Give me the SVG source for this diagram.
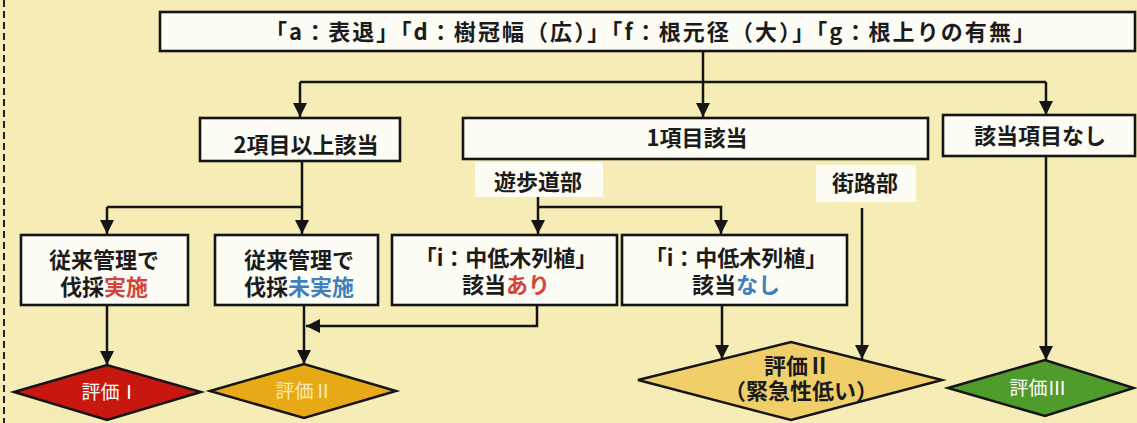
<svg xmlns="http://www.w3.org/2000/svg" width="1137" height="423" viewBox="0 0 1137 423">
<style>
.bg{fill:#f6edb6}
.box{fill:#fdfcf5;stroke:#151515;stroke-width:2.6}
.lbl{fill:#fdfcf5}
.t{font-family:"Noto Sans CJK JP","Noto Sans CJK SC",sans-serif;font-weight:700;font-size:22px;fill:#1b1b1b;text-anchor:middle}
.red{fill:#d2443c}
.blue{fill:#3f7fbe}
.dt{font-family:"Noto Sans CJK JP","Noto Sans CJK SC",sans-serif;font-weight:400;font-size:19px;text-anchor:middle}
.ln{fill:none;stroke:#151515;stroke-width:2.5}
.dia{stroke:#151515;stroke-width:2.5}
</style>
<defs>
<marker id="ah" markerUnits="userSpaceOnUse" markerWidth="14" markerHeight="14" viewBox="0 0 14 14" refX="14" refY="7" orient="auto">
<path d="M0,0 L14,7 L0,14 z" fill="#151515"/>
</marker>
</defs>
<rect class="bg" x="0" y="0" width="1137" height="423"/>
<line x1="4" y1="0" x2="4" y2="423" stroke="#222" stroke-width="2" stroke-dasharray="7,4"/>

<g id="connectors">
<path class="ln" d="M703,51 V117" marker-end="url(#ah)"/>
<path class="ln" d="M300,82 H1046"/>
<path class="ln" d="M300,82 V117" marker-end="url(#ah)"/>
<path class="ln" d="M1046,82 V115" marker-end="url(#ah)"/>
<path class="ln" d="M302,161 V234" marker-end="url(#ah)"/>
<path class="ln" d="M107,207 H302"/>
<path class="ln" d="M107,207 V234" marker-end="url(#ah)"/>
<path class="ln" d="M538,197 V234" marker-end="url(#ah)"/>
<path class="ln" d="M538,207 H721 V234" marker-end="url(#ah)"/>
<path class="ln" d="M862,208 V359" marker-end="url(#ah)"/>
<path class="ln" d="M722,305 V359" marker-end="url(#ah)"/>
<path class="ln" d="M537,305 V326 H306" marker-end="url(#ah)"/>
<path class="ln" d="M304,305 V364" marker-end="url(#ah)"/>
<path class="ln" d="M107,305 V365" marker-end="url(#ah)"/>
<path class="ln" d="M1046,156 V360" marker-end="url(#ah)"/>
</g>

<g id="top">
<rect class="box" x="160" y="12" width="975" height="39"/>
<text class="t" x="650" y="40" font-size="21" textLength="770" lengthAdjust="spacing">「a：表退」「d：樹冠幅（広）」「f：根元径（大）」「g：根上りの有無」</text>
</g>

<g id="n2">
<rect class="box" x="200" y="118" width="200" height="43"/>
<text class="t" x="306" y="153">2項目以上該当</text>
</g>

<g id="n1">
<rect class="box" x="463" y="118" width="465" height="41"/>
<text class="t" x="697" y="146">1項目該当</text>
</g>

<g id="n0">
<rect class="box" x="943" y="115" width="192" height="41"/>
<text class="t" x="1040" y="144">該当項目なし</text>
</g>

<g id="yuho">
<rect class="lbl" x="475" y="162" width="128" height="35"/>
<text class="t" x="538" y="190">遊歩道部</text>
</g>

<g id="gairo">
<rect class="lbl" x="816" y="165" width="100" height="37"/>
<text class="t" x="865" y="191">街路部</text>
</g>

<g id="b1">
<rect class="box" x="21" y="235" width="167" height="70"/>
<text class="t" font-size="23"><tspan x="104" y="268">従来管理で</tspan><tspan x="104" y="295">伐採<tspan class="red">実施</tspan></tspan></text>
</g>

<g id="b2">
<rect class="box" x="215" y="235" width="163" height="70"/>
<text class="t" font-size="23"><tspan x="299" y="268">従来管理で</tspan><tspan x="299" y="295">伐採<tspan class="blue">未実施</tspan></tspan></text>
</g>

<g id="b3">
<rect class="box" x="392" y="235" width="225" height="70"/>
<text class="t" font-size="21"><tspan x="506" y="266">「i：中低木列植」</tspan><tspan x="506" y="293">該当<tspan class="red">あり</tspan></tspan></text>
</g>

<g id="b4">
<rect class="box" x="622" y="235" width="225" height="70"/>
<text class="t" font-size="21"><tspan x="736" y="266">「i：中低木列植」</tspan><tspan x="736" y="293">該当<tspan class="blue">なし</tspan></tspan></text>
</g>

<g id="e1">
<polygon class="dia" points="14,392 107,365 201,392 107,420" fill="#c8170f"/>
<text class="dt" x="110" y="399" fill="#ffffff">評価Ⅰ</text>
</g>

<g id="e2">
<polygon class="dia" points="210,391 304,364 396,391 304,418" fill="#e8a916"/>
<text class="dt" x="304" y="398" fill="#f8ebb4">評価Ⅱ</text>
</g>

<g id="e2b">
<polygon class="dia" points="638,380 791,342 942,380 791,420" fill="#f0cf6a"/>
<text class="t" font-size="20"><tspan x="797" y="374">評価Ⅱ</tspan><tspan x="801" y="399">（緊急性低い）</tspan></text>
</g>

<g id="e3">
<polygon class="dia" points="948,388 1045,360 1134,388 1045,416" fill="#4f9b2b"/>
<text class="dt" x="1038" y="395" fill="#ffffff">評価Ⅲ</text>
</g>
</svg>
